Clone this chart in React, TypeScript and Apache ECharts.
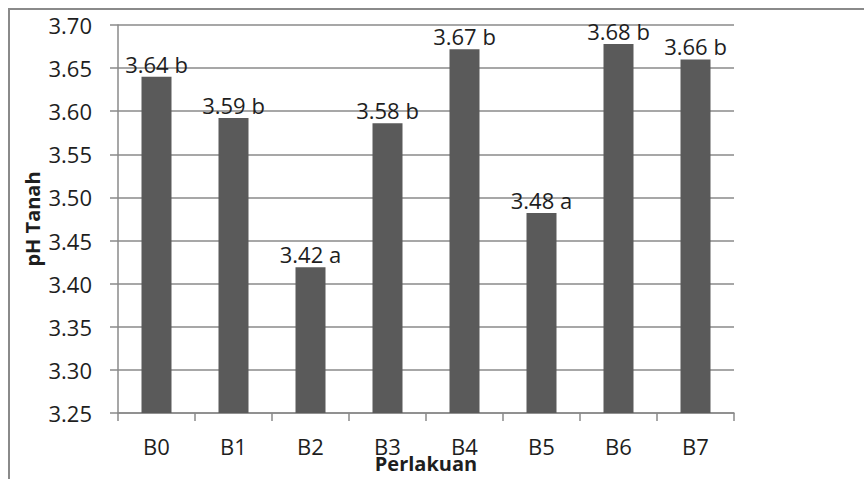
import React, { useEffect, useRef } from "react";
import * as echarts from "echarts";

const categories = ["B0", "B1", "B2", "B3", "B4", "B5", "B6", "B7"];
const phValues = [3.64, 3.592, 3.419, 3.586, 3.672, 3.482, 3.678, 3.66];
const barLabels = ["3.64 b", "3.59 b", "3.42 a", "3.58 b", "3.67 b", "3.48 a", "3.68 b", "3.66 b"];
const yMin = 3.25;
const yMax = 3.7;
const yStep = 0.05;

export default function App() {
  const ref = useRef<HTMLDivElement>(null);
  useEffect(() => {
    document.body.style.margin = "0";
    if (!ref.current) return;
    const chart = echarts.init(ref.current, null, { renderer: "svg" });
    const font = "'Open Sans', 'Noto Sans', sans-serif";
    const gridColor = "#8a8a8a";
    const textColor = "#1e1e1e";
    chart.setOption({
      animation: false,
      backgroundColor: "#ffffff",
      textStyle: { fontFamily: font },
      graphic: [
        {
          type: "rect",
          shape: { x: 9, y: 9, width: 900, height: 520 },
          style: { fill: "none", stroke: "#8a8a8a", lineWidth: 2 },
          silent: true,
        },
      ],
      grid: { left: 118, right: 130, top: 25, bottom: 66, containLabel: false, outerBoundsMode: "none" },
      xAxis: {
        type: "category",
        data: categories,
        name: "Perlakuan",
        nameLocation: "middle",
        nameGap: 39,
        nameMoveOverlap: false,
        nameTextStyle: { fontSize: 20, fontWeight: "bold", color: textColor, fontFamily: font, lineHeight: 22 },
        axisLine: { show: true, lineStyle: { color: gridColor, width: 1.5 } },
        axisTick: { show: true, length: 8, alignWithLabel: false, lineStyle: { color: gridColor, width: 1.5 } },
        axisLabel: { fontSize: 22, color: textColor, margin: 22, fontFamily: font },
        splitLine: { show: false },
      },
      yAxis: {
        type: "value",
        min: yMin,
        max: yMax,
        interval: yStep,
        name: "pH Tanah",
        nameLocation: "middle",
        nameGap: 76,
        nameMoveOverlap: false,
        nameRotate: 90,
        nameTextStyle: { fontSize: 20, fontWeight: "bold", color: textColor, fontFamily: font },
        axisLine: { show: true, lineStyle: { color: gridColor, width: 1.5 } },
        axisTick: { show: true, length: 8, lineStyle: { color: gridColor, width: 1.5 } },
        axisLabel: {
          fontSize: 22,
          color: textColor,
          margin: 26,
          fontFamily: font,
          formatter: (v: number) => v.toFixed(2),
        },
        splitLine: { show: true, lineStyle: { color: gridColor, width: 1.5 } },
      },
      series: [
        {
          type: "bar",
          data: phValues,
          barWidth: 30,
          itemStyle: { color: "#5a5a5a" },
          label: {
            show: true,
            position: "top",
            distance: 2,
            fontSize: 22,
            color: textColor,
            fontFamily: font,
            formatter: (p: any) => barLabels[p.dataIndex],
          },
        },
      ],
    });
    return () => chart.dispose();
  }, []);
  return <div ref={ref} style={{ width: 864, height: 479 }} />;
}
